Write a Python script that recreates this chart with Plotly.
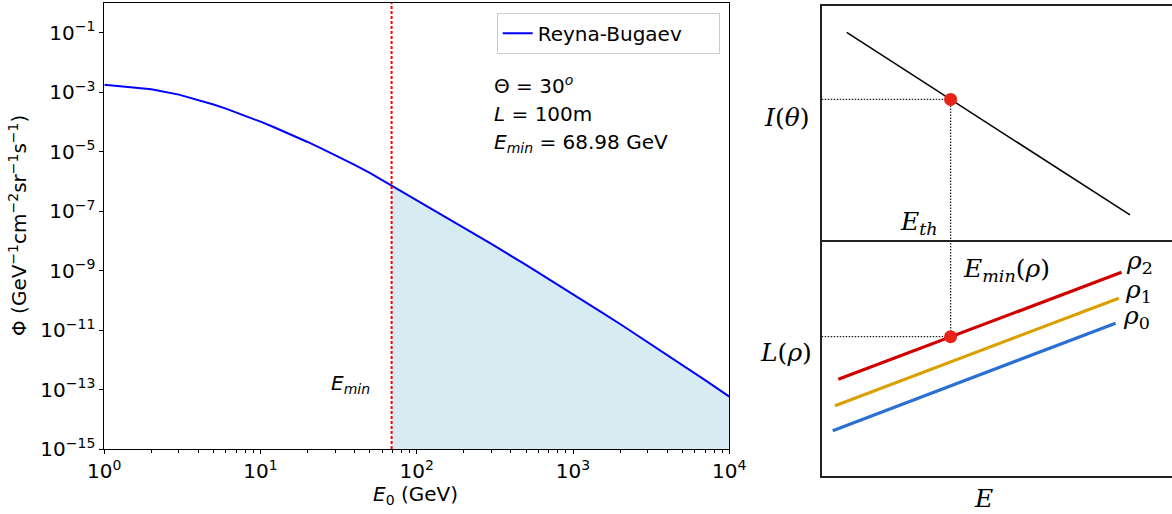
import plotly.graph_objects as go

W, H = 1172, 514

# ---------------- Left panel data ----------------
energy_gev = [1, 2, 3, 4, 5, 6, 7, 8, 10, 12, 15, 20, 25, 30, 40, 50, 69, 100, 150, 200,
              300, 500, 700, 1000, 1500, 2000, 3000, 5000, 7000, 10000]
flux = [1.78e-3, 1.26e-3, 8.3e-4, 5.5e-4, 3.85e-4, 2.80e-4, 2.10e-4, 1.62e-4, 1.02e-4,
        6.9e-5, 4.19e-5, 2.12e-5, 1.22e-5, 7.66e-6, 3.57e-6, 1.93e-6, 7.2e-7, 2.40e-7,
        6.9e-8, 2.84e-8, 7.9e-9, 1.55e-9, 5.2e-10, 1.62e-10, 4.2e-11, 1.60e-11, 4.0e-12,
        6.8e-13, 2.07e-13, 5.8e-14]
e_min = 68.98
x_tick_vals = [1, 10, 100, 1000, 10000]
x_tick_text = ["10<sup>0</sup>", "10<sup>1</sup>", "10<sup>2</sup>", "10<sup>3</sup>", "10<sup>4</sup>"]
y_tick_vals = [1e-1, 1e-3, 1e-5, 1e-7, 1e-9, 1e-11, 1e-13, 1e-15]
y_tick_text = ["10<sup>−1</sup>", "10<sup>−3</sup>", "10<sup>−5</sup>", "10<sup>−7</sup>",
               "10<sup>−9</sup>", "10<sup>−11</sup>", "10<sup>−13</sup>", "10<sup>−15</sup>"]
y_floor = 1e-15
y_ceil = 1.0

# ---------------- Right panel schematic data (arbitrary units 0..10) ----------------
intensity_line_x = [0.714, 8.80]
intensity_line_y = [8.86, 1.07]
threshold_point = (3.68, 6.0)
rho2_x, rho2_y = [0.474, 8.56], [4.09, 8.63]
rho1_x, rho1_y = [0.38, 8.48], [2.97, 7.53]
rho0_x, rho0_y = [0.314, 8.39], [1.91, 6.47]
lmin_point = (3.68, 5.90)

fig = go.Figure()

# fill under curve above E_min
fill_x = [e for e in energy_gev if e >= e_min]
fill_y = [f for e, f in zip(energy_gev, flux) if e >= e_min]
fig.add_trace(go.Scatter(
    x=[e_min] + fill_x + [fill_x[-1], e_min],
    y=[fill_y[0]] + fill_y + [y_floor, y_floor],
    fill="toself", fillcolor="rgba(173,216,230,0.5)", mode="lines",
    line=dict(width=0), hoverinfo="skip", showlegend=False, xaxis="x", yaxis="y"))

fig.add_trace(go.Scatter(x=energy_gev, y=flux, mode="lines", name="Reyna-Bugaev",
                         line=dict(color="blue", width=2), xaxis="x", yaxis="y"))

fig.add_trace(go.Scatter(x=[e_min, e_min], y=[y_floor, y_ceil], mode="lines",
                         line=dict(color="red", width=2, dash="3px,2px"),
                         showlegend=False, xaxis="x", yaxis="y"))

# ---------------- right top ----------------
dot_style = dict(color="#222", width=1.3, dash="1.5px,1.5px")
fig.add_trace(go.Scatter(x=intensity_line_x, y=intensity_line_y, mode="lines",
                         line=dict(color="black", width=1.5), showlegend=False,
                         xaxis="x2", yaxis="y2"))
fig.add_trace(go.Scatter(x=[0, threshold_point[0]], y=[threshold_point[1]] * 2, mode="lines",
                         line=dot_style, showlegend=False, xaxis="x2", yaxis="y2"))
fig.add_trace(go.Scatter(x=[threshold_point[0]] * 2, y=[threshold_point[1], 0], mode="lines",
                         line=dot_style, showlegend=False, xaxis="x2", yaxis="y2"))
fig.add_trace(go.Scatter(x=[threshold_point[0]], y=[threshold_point[1]], mode="markers",
                         marker=dict(color="#e8231a", size=13), showlegend=False,
                         xaxis="x2", yaxis="y2"))

# ---------------- right bottom ----------------
fig.add_trace(go.Scatter(x=[lmin_point[0]] * 2, y=[10, lmin_point[1]], mode="lines",
                         line=dot_style, showlegend=False, xaxis="x3", yaxis="y3"))
fig.add_trace(go.Scatter(x=[0, lmin_point[0]], y=[lmin_point[1]] * 2, mode="lines",
                         line=dot_style, showlegend=False, xaxis="x3", yaxis="y3"))
for lx, ly, col in [(rho0_x, rho0_y, "#2a70d2"), (rho1_x, rho1_y, "#d9a000"), (rho2_x, rho2_y, "#d10000")]:
    fig.add_trace(go.Scatter(x=lx, y=ly, mode="lines", line=dict(color=col, width=3.2),
                             showlegend=False, xaxis="x3", yaxis="y3"))
fig.add_trace(go.Scatter(x=[lmin_point[0]], y=[lmin_point[1]], mode="markers",
                         marker=dict(color="#e8231a", size=13), showlegend=False,
                         xaxis="x3", yaxis="y3"))

def px(x):
    return x / W

def py(y):
    return 1 - y / H

tick_font = dict(family="DejaVu Sans", size=20, color="black")
label_font = dict(family="DejaVu Sans", size=20, color="black")
serif = dict(family="DejaVu Serif", size=25, color="black")
box = "#222"

plain = dict(showticklabels=False, ticks="", showgrid=False, zeroline=False,
             automargin=False, range=[0, 10])

fig.update_layout(
    width=W, height=H, margin=dict(l=0, r=0, t=0, b=0, autoexpand=False),
    paper_bgcolor="white", plot_bgcolor="white",
    xaxis=dict(type="log", range=[0, 4], domain=[px(104.3), px(729.3)],
               tickmode="array", tickvals=x_tick_vals, ticktext=x_tick_text,
               ticks="outside", ticklen=4, tickcolor="black", tickfont=tick_font,
               showline=True, linecolor="black", linewidth=1, mirror=True,
               showgrid=False, zeroline=False, anchor="y", automargin=False,
               minor=dict(ticks="outside", ticklen=2.5, tickcolor="black",
                          tickvals=[m * 10 ** d for d in range(4) for m in range(2, 10)],
                          showgrid=False)),
    yaxis=dict(type="log", range=[-15, 0], domain=[py(449), py(3)],
               tickmode="array", tickvals=y_tick_vals, ticktext=y_tick_text,
               ticks="outside", ticklen=4, tickcolor="black", tickfont=tick_font,
               showline=True, linecolor="black", linewidth=1, mirror=True,
               showgrid=False, zeroline=False, anchor="x", automargin=False),
    xaxis2=dict(domain=[px(821.7), 1.0], anchor="y2",
                showline=True, mirror=True, linecolor=box, linewidth=1.8, **plain),
    yaxis2=dict(domain=[py(240), py(5.7)], anchor="x2",
                showline=True, mirror=False, linecolor=box, linewidth=1.8, **plain),
    xaxis3=dict(domain=[px(821.7), 1.0], anchor="y3",
                showline=True, mirror=False, linecolor=box, linewidth=1.8, **plain),
    yaxis3=dict(domain=[py(475.7), py(240)], anchor="x3",
                showline=True, mirror=False, linecolor=box, linewidth=1.8, **plain),
    legend=dict(x=px(496.7), y=py(12.7), xanchor="left", yanchor="top",
                orientation="h", entrywidth=176, entrywidthmode="pixels",
                bgcolor="white", bordercolor="#cccccc", borderwidth=1,
                font=dict(family="DejaVu Sans", size=20, color="black")),
    showlegend=True,
)

ann = []
def add(text, x, y, font, xanchor="center", yanchor="middle", angle=0):
    ann.append(dict(text=text, x=px(x), y=py(y), xref="paper", yref="paper",
                    showarrow=False, font=font, xanchor=xanchor, yanchor=yanchor,
                    textangle=angle))

# left panel labels
add("<i>E</i><sub>0</sub> (GeV)", 415, 495, label_font)
add("Φ (GeV<sup>−1</sup>cm<sup>−2</sup>sr<sup>−1</sup>s<sup>−1</sup>)", 18, 226, label_font, angle=-90)
add("<i>E<sub>min</sub></i>", 350, 384, label_font)
add("Θ = 30<sup><i>o</i></sup>", 491.7, 85, label_font, xanchor="left")
add("<i>L</i> = 100m", 491.7, 114, label_font, xanchor="left")
add("<i>E<sub>min</sub></i> = 68.98 GeV", 491.7, 143, label_font, xanchor="left")

# right panel labels
add("<i>I</i>(<i>θ</i>)", 786, 118, serif)
add("<i>L</i>(<i>ρ</i>)", 786, 352, serif)
add("<i>E<sub>th</sub></i>", 919, 223, serif)
add("<i>E<sub>min</sub></i>(<i>ρ</i>)", 1006, 270, serif)
add("<i>ρ</i><sub>2</sub>", 1139, 262, serif)
add("<i>ρ</i><sub>1</sub>", 1138, 291, serif)
add("<i>ρ</i><sub>0</sub>", 1136, 317, serif)
add("<i>E</i>", 983, 498, serif)

fig.update_layout(annotations=ann)
fig.write_html("out.html")
